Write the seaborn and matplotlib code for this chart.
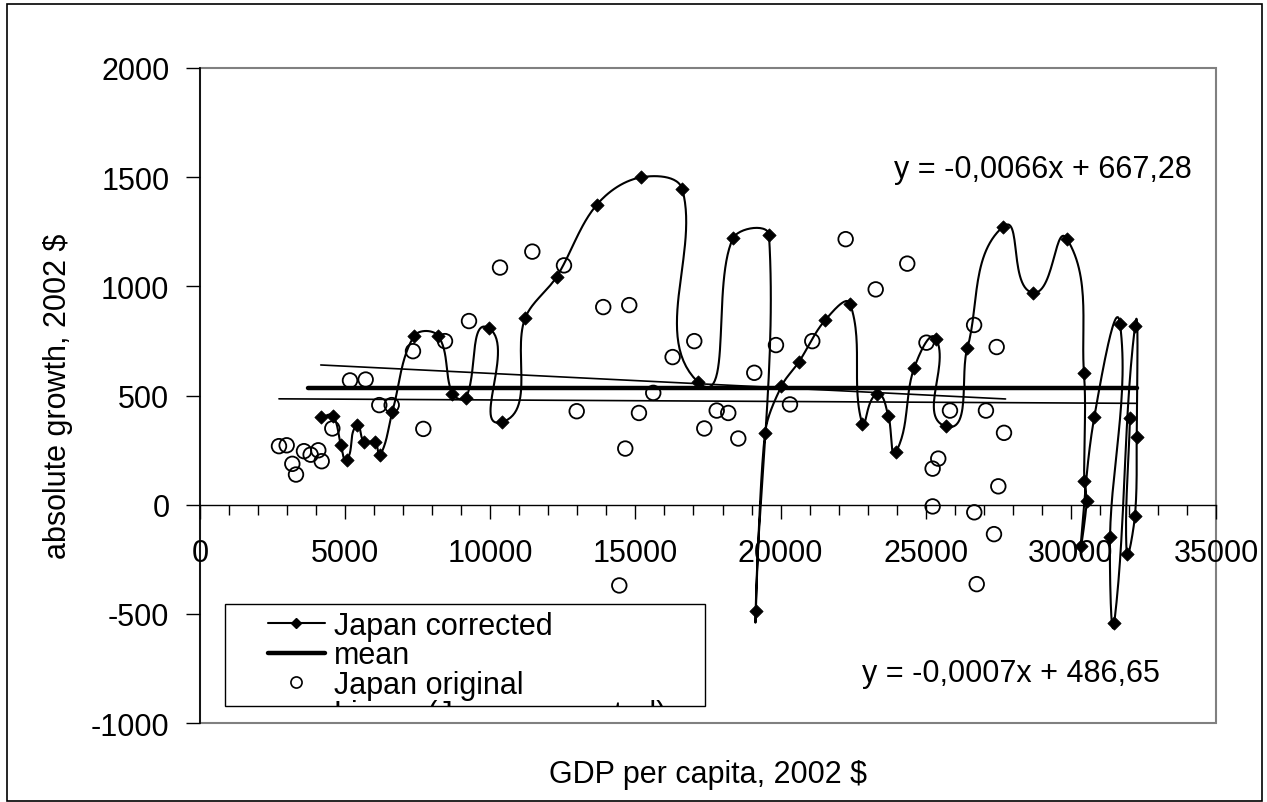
import numpy as np
import pandas as pd
import matplotlib
matplotlib.use("Agg")
import matplotlib.pyplot as plt
from matplotlib.lines import Line2D
from matplotlib.patches import Rectangle
from matplotlib.ticker import MultipleLocator
import seaborn as sns

# Japan corrected, in the order the series is drawn
corr_gdp = [4168, 4571, 4857, 5053, 5397, 5649, 6029, 6201, 6625, 7372,
            8211, 8693, 9152, 9966, 10391, 11196, 12287, 13665, 15181, 16614,
            17144, 18363, 19601, 19142, 19463, 20031, 20628, 21530, 22391, 22815,
            23311, 23711, 23976, 24596, 25354, 25688, 26432, 27672, 28683, 29855,
            30452, 30462, 30545, 30338, 30807, 31692, 31348, 31497, 32209, 32266,
            32209, 31923, 32036]
corr_growth = [400, 408, 272, 205, 364, 288, 288, 226, 425, 772,
               772, 508, 489, 807, 378, 853, 1044, 1373, 1499, 1445,
               563, 1220, 1235, -486, 326, 543, 653, 844, 921, 370,
               505, 408, 242, 624, 761, 359, 716, 1274, 971, 1219,
               601, 107, 15, -188, 401, 829, -148, -540, 818, 311,
               -50, -225, 398]

# Japan original
orig_gdp = [2721, 2986, 3180, 3307, 3582, 3812, 4075, 4192, 4558, 5167,
            5707, 6176, 6603, 7337, 7693, 8440, 9267, 10335, 11448, 12539,
            12977, 13891, 14444, 14650, 14787, 15122, 15614, 16281, 17027, 17372,
            17800, 18198, 18543, 19094, 19842, 20324, 21092, 22242, 23277, 24364,
            25026, 25238, 25238, 25432, 25836, 26667, 26673, 26757, 27075, 27352,
            27444, 27501, 27697]
orig_growth = [268, 272, 187, 138, 245, 229, 249, 199, 349, 569,
               573, 456, 456, 703, 347, 749, 841, 1086, 1159, 1096,
               428, 905, -370, 257, 914, 420, 512, 676, 749, 349,
               431, 420, 303, 604, 731, 459, 749, 1216, 986, 1104,
               742, 165, -8, 211, 431, 823, -35, -364, 431, -135,
               722, 84, 329]

mean_value = 535
mean_span = [3730, 32270]

# linear trend lines: slope, intercept and x span
trend_a = (-0.0066, 667.28)
trend_a_span = [4160, 27750]
trend_b = (-0.0007, 486.65)
trend_b_span = [2720, 32270]

W, H = 1267, 803
SX, SY = 1016 / 35000, 655 / 3000


def smooth(xs, ys, n=30):
    # bezier smoothing like the spreadsheet "smoothed line", done in screen units;
    # tangent length follows the segment length so spikes do not overshoot much
    p = np.column_stack([np.asarray(xs) * SX, np.asarray(ys) * SY])
    out = [p[0]]
    t = np.linspace(0, 1, n)[1:, None]
    for i in range(len(p) - 1):
        p0 = p[i - 1] if i > 0 else p[i]
        p1, p2 = p[i], p[i + 1]
        p3 = p[i + 2] if i + 2 < len(p) else p[i + 1]
        seg_len = np.hypot(*(p2 - p1))
        d1 = p2 - p0
        d2 = p3 - p1
        n1 = np.hypot(*d1) or 1.0
        n2 = np.hypot(*d2) or 1.0
        c1 = p1 + d1 / n1 * seg_len / 3
        c2 = p2 - d2 / n2 * seg_len / 3
        seg = (1 - t) ** 3 * p1 + 3 * (1 - t) ** 2 * t * c1 + 3 * (1 - t) * t ** 2 * c2 + t ** 3 * p2
        out.extend(seg)
    out = np.array(out)
    return out[:, 0] / SX, out[:, 1] / SY


def eq_text(slope, intercept):
    return f"y = {slope:.4f}x + {intercept:.2f}".replace(".", ",")


sns.set_theme(style="white")
plt.rcParams['font.family'] = ['Liberation Sans', 'DejaVu Sans']
plt.rcParams['axes.unicode_minus'] = False
plt.rcParams['text.color'] = 'black'
plt.rcParams['xtick.color'] = 'black'
plt.rcParams['ytick.color'] = 'black'

fig = plt.figure(figsize=(W / 100, H / 100), dpi=100)
ax = fig.add_axes([200 / W, 1 - 724 / H, 1016 / W, 655 / H])

sx, sy = smooth(corr_gdp, corr_growth)
curve = pd.DataFrame({'gdp': sx, 'growth': sy})
sns.lineplot(data=curve, x='gdp', y='growth', sort=False, estimator=None,
             color='black', lw=1.5, ax=ax, zorder=3)
sns.scatterplot(x=corr_gdp, y=corr_growth, marker='D', s=46, color='black',
                edgecolor='black', linewidth=0.5, ax=ax, zorder=4)
sns.scatterplot(x=orig_gdp, y=orig_growth, marker='o', s=110, facecolor='none',
                edgecolor='black', linewidth=1.3, ax=ax, zorder=4)

ax.plot(mean_span, [mean_value, mean_value], color='black', lw=3.2, zorder=2)
for (k, b), span in [(trend_a, trend_a_span), (trend_b, trend_b_span)]:
    xs = np.array(span)
    ax.plot(xs, k * xs + b, color='black', lw=1.2, zorder=2)

ax.text(29040, 1537, eq_text(*trend_a), fontsize=22, ha='center', va='center')
ax.text(27940, -769, eq_text(*trend_b), fontsize=22, ha='center', va='center')

ax.set_xlim(0, 35000)
ax.set_ylim(-1000, 2000)
ax.set_xticks(range(0, 35001, 5000))
ax.set_yticks(range(-1000, 2001, 500))
ax.xaxis.set_minor_locator(MultipleLocator(1000))
ax.set_xlabel('')
ax.set_ylabel('')

for s in ['top', 'right']:
    ax.spines[s].set_visible(False)
ax.spines['bottom'].set_position(('data', 0))
ax.spines['bottom'].set_color('black')
ax.spines['bottom'].set_linewidth(1.0)
ax.spines['left'].set_color('black')
ax.spines['left'].set_linewidth(1.2)
ax.add_patch(Rectangle((0, 0), 1, 1, transform=ax.transAxes, fill=False,
                       edgecolor='#808080', lw=1.5, clip_on=False, zorder=0.5))

ax.tick_params(axis='x', which='major', direction='out', length=10, width=1,
               color='black', labelcolor='black', pad=14, labelsize=22, bottom=True)
ax.tick_params(axis='x', which='minor', direction='out', length=7, width=1,
               color='black', bottom=True)
ax.tick_params(axis='y', direction='out', length=10, width=1, color='black',
               labelcolor='black', pad=12, labelsize=22, left=True)

fig.text(708 / W, 1 - 775 / H, 'GDP per capita, 2002 $', fontsize=22,
         ha='center', va='center', color='black')
fig.text(58 / W, 1 - 396 / H, 'absolute growth, 2002 $', fontsize=22,
         ha='center', va='center', rotation=90, color='black')

# legend box (the last entry is cut off by the frame, as in the original)
box = Rectangle((225 / W, 1 - 707 / H), 480 / W, 102 / H, transform=fig.transFigure,
                facecolor='white', edgecolor='black', lw=1.0)
fig.patches.append(box)
handles = [Line2D([], [], color='black', lw=1.5, marker='D', markersize=5),
           Line2D([], [], color='black', lw=3.2),
           Line2D([], [], ls='none', marker='o', mfc='none', mec='black',
                  markersize=8, mew=1.2),
           Line2D([], [], color='black', lw=1.2)]
labels = ['Japan corrected', 'mean', 'Japan original', 'Linear (Japan corrected)']
leg = fig.legend(handles, labels, loc='upper left', bbox_to_anchor=(268 / W, 1 - 612 / H),
                 frameon=False, fontsize=22, handlelength=1.85, handletextpad=0.3,
                 labelspacing=-0.02, borderpad=0, borderaxespad=0)
leg.set_zorder(5)
for a in leg.get_texts() + list(leg.legend_handles):
    a.set_clip_path(box)

# outer chart border
fig.patches.append(Rectangle((7 / W, 1 / H), 1255 / W, 797 / H, transform=fig.transFigure,
                             fill=False, edgecolor='black', lw=1.2))

fig.savefig('out.png', dpi=100)
